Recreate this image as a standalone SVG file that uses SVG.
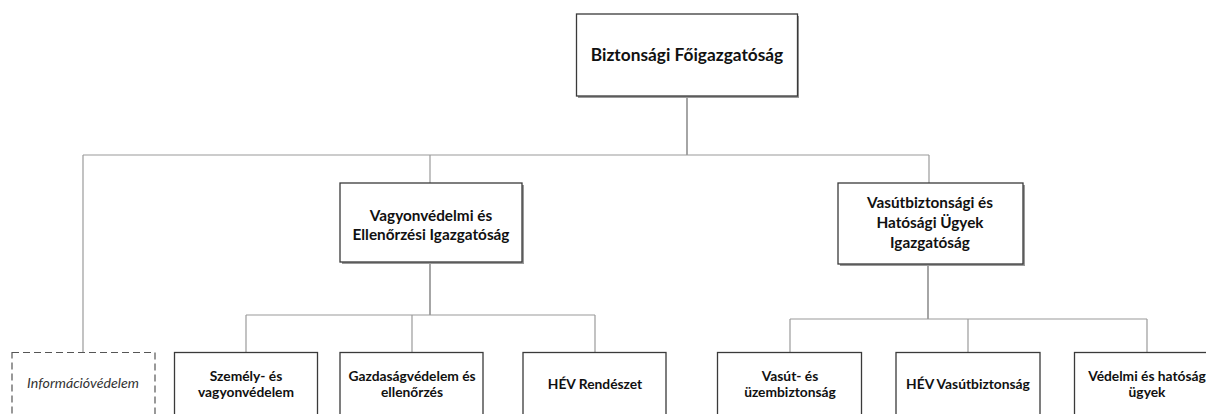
<svg xmlns="http://www.w3.org/2000/svg" width="1206" height="414" viewBox="0 0 1206 414">
  <style>
    .box { fill: #ffffff; stroke: #3a3a3a; stroke-width: 1.3; }
    .shadow { fill: #9a9a9a; }
    .dashed { fill: #ffffff; stroke: #555555; stroke-width: 1.2; stroke-dasharray: 7 4; }
    .link { fill: none; stroke: #9a9a9a; stroke-width: 1.2; }
    .link-dark { fill: none; stroke: #6a6a6a; stroke-width: 1.2; }
    .t { font-family: Lato, "Open Sans", sans-serif; font-weight: bold; fill: #111111; text-anchor: middle; }
    .big { font-size: 17.3px; }
    .mid { font-size: 15.3px; }
    .small { font-size: 13.8px; }
    .it { font-family: Lato, "Open Sans", sans-serif; font-style: italic; font-size: 14.2px; fill: #333333; text-anchor: middle; }
  </style>

  <!-- connectors -->
  <g id="connectors">
    <path class="link-dark" d="M687 96 V155"/>
    <path class="link" d="M83 155 H929"/>
    <path class="link" d="M83 155 V352"/>
    <path class="link" d="M430 155 V183"/>
    <path class="link" d="M929 155 V183"/>
    <path class="link-dark" d="M430 262 V315"/>
    <path class="link" d="M246 315 H595"/>
    <path class="link" d="M246 315 V352"/>
    <path class="link" d="M412 315 V352"/>
    <path class="link" d="M595 315 V352"/>
    <path class="link-dark" d="M928 264 V319"/>
    <path class="link" d="M790 319 H1147"/>
    <path class="link" d="M790 319 V352"/>
    <path class="link" d="M968 319 V352"/>
    <path class="link" d="M1147 319 V352"/>
  </g>

  <!-- top level -->
  <g id="n-foigazgatosag">
    <rect class="shadow" x="578" y="16" width="221" height="82"/>
    <rect class="box" x="576.5" y="14" width="221" height="82"/>
    <text class="t big" x="687" y="61">Biztonsági Főigazgatóság</text>
  </g>

  <!-- directorates -->
  <g id="n-vagyonvedelmi">
    <rect class="shadow" x="342" y="185" width="182" height="79"/>
    <rect class="box" x="340" y="183" width="182" height="79"/>
    <text class="t mid" x="431" y="221">Vagyonvédelmi és</text>
    <text class="t mid" x="431" y="240">Ellenőrzési Igazgatóság</text>
  </g>

  <g id="n-vasutbiztonsagi">
    <rect class="shadow" x="840" y="185" width="185" height="81"/>
    <rect class="box" x="838" y="183" width="185" height="81"/>
    <text class="t mid" x="930" y="208">Vasútbiztonsági és</text>
    <text class="t mid" x="930" y="228">Hatósági Ügyek</text>
    <text class="t mid" x="930" y="248">Igazgatóság</text>
  </g>

  <!-- units -->
  <g id="n-informaciovedelem">
    <rect class="dashed" x="12" y="352.5" width="143" height="80"/>
    <text class="it" x="83" y="388">Információvédelem</text>
  </g>

  <g id="n-szemely">
    <rect class="box" x="174.5" y="352.5" width="143" height="80"/>
    <text class="t small" x="246" y="381">Személy- és</text>
    <text class="t small" x="246" y="397">vagyonvédelem</text>
  </g>

  <g id="n-gazdasag">
    <rect class="box" x="340" y="352.5" width="143" height="80"/>
    <text class="t small" x="412" y="381">Gazdaságvédelem és</text>
    <text class="t small" x="412" y="397">ellenőrzés</text>
  </g>

  <g id="n-hev-rendeszet">
    <rect class="box" x="523" y="352.5" width="143" height="80"/>
    <text class="t small" x="595" y="389">HÉV Rendészet</text>
  </g>

  <g id="n-vasut-uzem">
    <rect class="box" x="717.5" y="352.5" width="144" height="80"/>
    <text class="t small" x="790" y="381">Vasút- és</text>
    <text class="t small" x="790" y="397">üzembiztonság</text>
  </g>

  <g id="n-hev-vasut">
    <rect class="box" x="896" y="352.5" width="144" height="80"/>
    <text class="t small" x="968" y="389">HÉV Vasútbiztonság</text>
  </g>

  <g id="n-vedelmi">
    <rect class="box" x="1074.5" y="352.5" width="145" height="80"/>
    <text class="t small" x="1147" y="381">Védelmi és hatóság</text>
    <text class="t small" x="1147" y="397">ügyek</text>
  </g>
</svg>
